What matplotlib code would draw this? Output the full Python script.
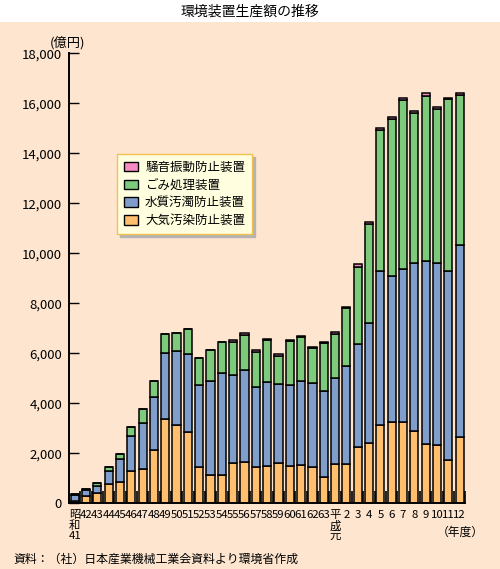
import matplotlib
matplotlib.use("Agg")
import matplotlib.pyplot as plt
from matplotlib.patches import Patch, Rectangle
from matplotlib.ticker import FuncFormatter, FixedLocator
import numpy as np

plt.rcParams["font.family"] = ["Noto Sans CJK JP", "DejaVu Sans"]

# fiscal years: 昭和41 .. 63, 平成元 .. 12
years = ["昭\n和\n41"] + [str(y) for y in range(42, 64)] + ["平\n成\n元"] + [str(y) for y in range(2, 13)]

# 億円
air = [110, 290, 400, 760, 840, 1280, 1370, 2130, 3360, 3120, 2840, 1440, 1120, 1120, 1600, 1640,
       1440, 1480, 1600, 1480, 1520, 1440, 1040, 1560, 1560, 2240, 2400, 3120, 3240, 3240, 2880,
       2360, 2320, 1720, 2640]
water = [230, 230, 290, 520, 920, 1400, 1830, 2110, 2640, 2960, 3120, 3280, 3760, 4080, 3520, 3680,
         3200, 3360, 3160, 3240, 3360, 3360, 3440, 3440, 3920, 4120, 4800, 6160, 5840, 6120, 6720,
         7320, 7280, 7560, 7680]
waste = [20, 50, 120, 170, 210, 370, 570, 640, 760, 720, 1000, 1080, 1240, 1240, 1330, 1400,
         1400, 1680, 1120, 1760, 1760, 1400, 1920, 1760, 2330, 3080, 3960, 5640, 6280, 6760, 6000,
         6600, 6160, 6880, 6000]
noise = [0, 0, 0, 0, 0, 0, 0, 0, 0, 30, 30, 30, 30, 30, 70, 80,
         80, 40, 80, 40, 40, 40, 40, 80, 40, 130, 80, 80, 80, 80, 80,
         120, 80, 40, 80]

series = ["騒音振動防止装置", "ごみ処理装置", "水質汚濁防止装置", "大気汚染防止装置"]
colors = {"騒音振動防止装置": "#F78BC3", "ごみ処理装置": "#7DCA7D",
          "水質汚濁防止装置": "#7F9ECB", "大気汚染防止装置": "#FFBF6E"}

PEACH = "#FDE5CF"

fig = plt.figure(figsize=(5.0, 5.69), dpi=100)
fig.patch.set_facecolor("white")
fig.patches.append(Rectangle((0, 0), 1, (569 - 22) / 569, transform=fig.transFigure,
                             facecolor=PEACH, edgecolor="none", zorder=-10))
fig.text(0.5, 1 - 12 / 569, "環境装置生産額の推移", ha="center", va="center", fontsize=10)

ax = fig.add_axes([69 / 500, 1 - 503.3 / 569, (465.3 - 69) / 500, (503.3 - 53.3) / 569])
ax.set_facecolor("none")

x = np.arange(len(years))
w = 0.72
kw = dict(width=w, edgecolor="black", linewidth=1.1)
b = np.zeros(len(years))
for name, vals in [("大気汚染防止装置", air), ("水質汚濁防止装置", water),
                   ("ごみ処理装置", waste), ("騒音振動防止装置", noise)]:
    ax.bar(x, vals, bottom=b, color=colors[name], **kw)
    b = b + np.array(vals)

ax.set_xlim(-0.5, len(years) - 0.5)
ax.set_ylim(0, 18000)
ax.set_yticks(range(0, 18001, 2000))
ax.yaxis.set_major_formatter(FuncFormatter(lambda v, _: f"{v:,.0f}"))
ax.set_xticks(x)
ax.set_xticklabels(years, fontsize=8.2, linespacing=1.0, va="top")
ax.xaxis.set_minor_locator(FixedLocator(np.arange(-0.5, len(years), 1.0)))
ax.tick_params(axis="x", which="major", length=0, pad=5)
ax.tick_params(axis="x", which="minor", direction="in", length=9, width=1.2)
ax.tick_params(axis="y", direction="in", length=7, width=1.0, pad=5, labelsize=9.5)
for s in ("top", "right"):
    ax.spines[s].set_visible(False)
for s in ("left", "bottom"):
    ax.spines[s].set_linewidth(1.4)

fig.text(50 / 500, 1 - 42.5 / 569, "(億円)", ha="left", va="center", fontsize=9.5)
fig.text(460 / 500, 1 - 532 / 569, "（年度）", ha="center", va="center", fontsize=8.5)
fig.text(13 / 500, 1 - 559 / 569, "資料：（社）日本産業機械工業会資料より環境省作成",
         ha="left", va="center", fontsize=8.6)

handles = [Patch(facecolor=colors[n], edgecolor="black", linewidth=1.0) for n in series]
leg = ax.legend(handles, series, loc="upper left", bbox_to_anchor=(117 / 500, 1 - 154 / 569),
                bbox_transform=fig.transFigure, borderaxespad=0, fontsize=9, frameon=True,
                fancybox=False, shadow={"color": "#B4B4B4", "alpha": 1.0},
                handlelength=1.1, handleheight=0.8, handletextpad=0.6, labelspacing=0.38,
                borderpad=0.55)
leg.get_frame().set_facecolor("#FFFFE0")
leg.get_frame().set_edgecolor("#F2C14E")
leg.get_frame().set_linewidth(1.0)
leg.get_frame().set_alpha(1.0)

fig.savefig("out.png", dpi=100, facecolor=fig.get_facecolor())
